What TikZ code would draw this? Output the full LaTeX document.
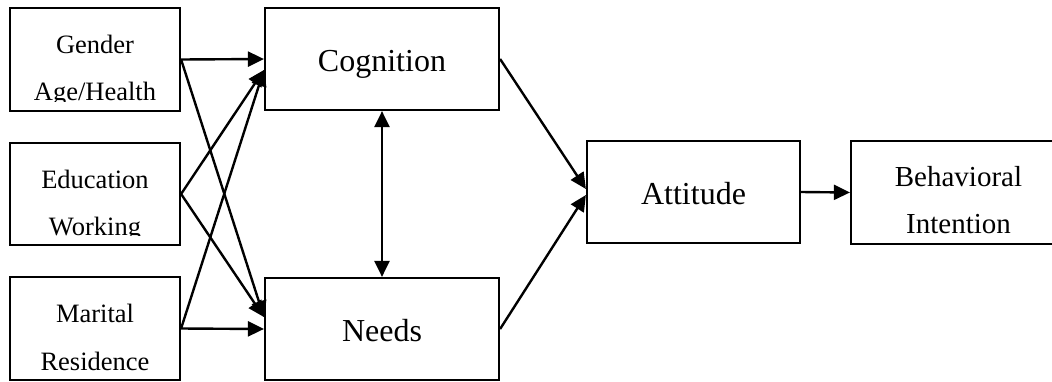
\documentclass[tikz,border=0pt]{standalone}
\usepackage{fontspec}
\setmainfont{Liberation Serif}
\usetikzlibrary{arrows.meta}

\tikzset{
    box/.style={draw, line width=2.2pt, inner sep=0pt},
    small/.style={font=\fontsize{26.5}{30}\selectfont, inner sep=0pt, anchor=base},
    mid/.style={font=\fontsize{29}{33}\selectfont, inner sep=0pt, anchor=base},
    big/.style={font=\fontsize{32}{36}\selectfont, text height=25pt, text depth=0pt},
    link/.style={line width=2.4pt, -{Triangle[length=16pt,width=15pt]}},
}

\begin{document}
\begin{tikzpicture}[x=1pt, y=-1pt]
\useasboundingbox (0,0) rectangle (1052,381);

% ---- demographic factors ----
\node[box, minimum width=170pt, minimum height=103pt] (genbox) at (95,59.5) {};
\node[box, minimum width=170pt, minimum height=102pt] (edubox) at (95,194) {};
\node[box, minimum width=170pt, minimum height=103pt] (marbox) at (95,328.5) {};
\begin{scope}
    \clip (10,8) rectangle (180,101);
    \node[small] (gen) at (95,53) {Gender};
    \node[small] (age) at (95,100) {Age/Health};
\end{scope}
\begin{scope}
    \clip (10,143) rectangle (180,235);
    \node[small] (edu) at (95,188) {Education};
    \node[small] (work) at (95,235) {Working};
\end{scope}
\node[small] (mar) at (95,322) {Marital};
\node[small] (res) at (95,370) {Residence};

% ---- model ----
\node[box, big, minimum width=234pt, minimum height=102pt] (cogbox) at (382,59) {Cognition};
\node[box, big, minimum width=234pt, minimum height=102pt] (needbox) at (382,329) {Needs};
\node[box, big, minimum width=213pt, minimum height=102pt] (attbox) at (693.5,192) {Attitude};
\node[box, minimum width=215pt, minimum height=103pt] (bibox) at (958.5,192.5) {};
\node[mid] (beh) at (958.5,186) {Behavioral};
\node[mid] (int) at (958.5,233) {Intention};

% ---- arrows ----
\draw[link] (genbox.east) -- (cogbox.west);
\draw[link] (genbox.east) -- ([yshift=12pt]needbox.west);
\draw[link] (edubox.east) -- ([yshift=-11pt]cogbox.west);
\draw[link] (edubox.east) -- ([yshift=12pt]needbox.west);
\draw[link] (marbox.east) -- ([yshift=-11pt]cogbox.west);
\draw[link] (marbox.east) -- (needbox.west);
\draw[link, {Triangle[length=16pt,width=15pt]}-{Triangle[length=16pt,width=15pt]}] (cogbox.south) -- (needbox.north);
\draw[link] (cogbox.east) -- ([yshift=3pt]attbox.west);
\draw[link] (needbox.east) -- ([yshift=-3pt]attbox.west);
\draw[link] (attbox.east) -- (bibox.west);

\end{tikzpicture}
\end{document}
